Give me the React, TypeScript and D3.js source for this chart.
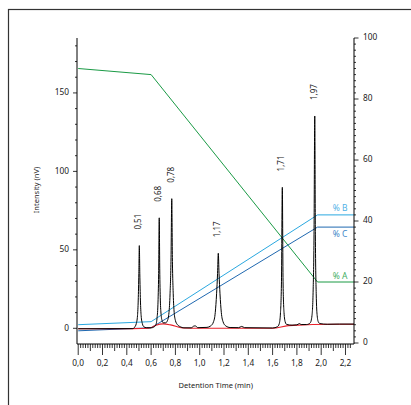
import React from "react";
import * as d3 from "d3";

// ---- data ----
const xTickLabels = ["0,0", "0,2", "0,4", "0,6", "0,8", "1,0", "1,2", "1,4", "1,6", "1,8", "2,0", "2,2"];
const xTickValues = [0, 0.2, 0.4, 0.6, 0.8, 1.0, 1.2, 1.4, 1.6, 1.8, 2.0, 2.2];
const leftTicks = [0, 50, 100, 150];
const rightTicks = [0, 20, 40, 60, 80, 100];

// chromatogram trace [time (min), intensity (nV)]
const traceTime = [
  0.0, 0.45, 0.465, 0.478, 0.488, 0.494, 0.499, 0.503, 0.507, 0.512, 0.518, 0.528, 0.54, 0.56,
  0.6, 0.622, 0.638, 0.648, 0.656, 0.662, 0.667, 0.671, 0.676, 0.682, 0.69, 0.7, 0.72,
  0.735, 0.747, 0.756, 0.764, 0.77, 0.775, 0.782, 0.79, 0.8, 0.815, 0.84, 0.87,
  0.93, 0.955, 0.965, 0.985, 1.06, 1.09, 1.113, 1.128, 1.139, 1.147, 1.153, 1.159, 1.167, 1.178, 1.193, 1.215, 1.25,
  1.32, 1.345, 1.37, 1.6, 1.64, 1.655, 1.665, 1.673, 1.68, 1.686, 1.694, 1.704, 1.715, 1.76,
  1.8, 1.82, 1.835, 1.88, 1.91, 1.924, 1.934, 1.941, 1.947, 1.952, 1.959, 1.967, 1.977, 1.99, 2.05, 2.15, 2.27,
];
const traceValue = [
  -0.3, -0.2, 0.8, 3, 8, 18, 35, 52.7, 35, 18, 8, 3, 1, 0.4,
  0.3, 0.8, 2, 6, 15, 35, 70.4, 38, 18, 9, 5, 3.5, 3.5,
  5, 10, 22, 45, 82.6, 45, 22, 10, 5, 2.5, 1, 0.3,
  0.3, 1.5, 1.5, 0.4, 0.6, 1.5, 4, 10, 22, 35, 47.8, 35, 22, 10, 4, 1.5, 0.5,
  0.4, 1.2, 0.4, 0.2, 1, 3, 10, 30, 89.8, 30, 10, 4, 2.5, 2,
  2.2, 3, 2.4, 2.4, 3.5, 8, 25, 60, 135.3, 60, 22, 8, 4, 3, 2.6, 2.7, 2.7,
];

// reference (red) trace
const redTime = [0.0, 0.45, 0.58, 0.64, 0.7, 0.76, 0.86, 1.0, 1.6, 1.73, 2.13, 2.27];
const redValue = [-0.3, -0.2, 0, 2, 2.8, 2.2, 0.2, 0, 0, 1.7, 2.6, 2.6];

// gradient (%), right axis
const gradTime = [0, 0.6, 1.97, 2.27];
const gradA = [90, 88, 20, 20];
const gradB = [6, 7, 42, 42];
const gradC = [4, 5, 38, 38];

// peak labels
const peakLabels = ["0,51", "0,68", "0,78", "1,17", "1,71", "1,97"];
const peakTimes = [0.503, 0.667, 0.77, 1.153, 1.68, 1.947];
const peakHeights = [52.7, 70.4, 82.6, 47.8, 89.8, 135.3];

const FONT = "'Noto Sans', 'DejaVu Sans', sans-serif";
const TXT = "#222";

export default function App() {
  const x = d3.scaleLinear().domain([-0.01, 2.27]).range([77, 354]);
  const yL = d3.scaleLinear().domain([-10, 185]).range([344, 38]);
  const yR = d3.scaleLinear().domain([0, 100]).range([343, 38]);

  const trace = d3
    .line<number>()
    .x((_, i) => x(traceTime[i]))
    .y((v) => yL(v))
    .curve(d3.curveMonotoneX)(traceValue) as string;
  const red = d3
    .line<number>()
    .x((_, i) => x(redTime[i]))
    .y((v) => yL(v))
    .curve(d3.curveMonotoneX)(redValue) as string;
  const gline = (vals: number[]) =>
    d3
      .line<number>()
      .x((_, i) => x(gradTime[i]))
      .y((v) => yR(v))(vals) as string;

  const minorX = d3.range(0, 113).map((i) => i * 0.02).filter((t) => t <= 2.265);
  const leftMinor = d3.range(10, 181, 10).filter((v) => v % 50 !== 0);
  const rightMinor = d3.range(2, 100, 2).filter((v) => v % 20 !== 0);

  const xAxisY = 344;
  const axL = 77;
  const axR = 354;

  return (
    <svg
      width={411}
      height={405}
      style={{ position: "absolute", left: 0, top: 0, background: "#fff" }}
      fontFamily={FONT}
    >
      <rect x={8.5} y={9.5} width={500} height={500} fill="#fff" stroke="#333" strokeWidth={1.2} />

      {/* gradient lines */}
      <path d={gline(gradA)} fill="none" stroke="#1a9a45" strokeWidth={1} />
      <path d={gline(gradB)} fill="none" stroke="#2aa8e0" strokeWidth={1} />
      <path d={gline(gradC)} fill="none" stroke="#1f68b0" strokeWidth={1} />

      {/* traces */}
      <path d={red} fill="none" stroke="#e8202a" strokeWidth={1.1} />
      <path d={trace} fill="none" stroke="#000" strokeWidth={1} />

      {/* gradient labels */}
      <text x={347.5} y={yR(gradB[3]) - 6} fontSize={8.5} fill="#4fb1e6" textAnchor="end" dominantBaseline="middle">% B</text>
      <text x={347.5} y={yR(gradC[3]) + 8} fontSize={8.5} fill="#3d86c8" textAnchor="end" dominantBaseline="middle">% C</text>
      <text x={347.5} y={yR(gradA[3]) - 5.5} fontSize={8.5} fill="#3fae5f" textAnchor="end" dominantBaseline="middle">% A</text>

      {/* peak labels */}
      {peakLabels.map((lab, i) => {
        const px = x(peakTimes[i]);
        const py = yL(peakHeights[i]) - 16;
        return (
          <text
            key={lab}
            transform={`translate(${px},${py}) rotate(-90)`}
            fontSize={8}
            fill={TXT}
            dominantBaseline="middle"
          >
            {lab}
          </text>
        );
      })}

      {/* axes lines */}
      <path d={`M${axL},38 V${xAxisY} H${axR} V38`} fill="none" stroke="#000" strokeWidth={1} />

      {/* x ticks */}
      {minorX.map((t, i) => {
        const len = i % 10 === 0 ? 11 : i % 5 === 0 ? 7 : 4;
        return <line key={i} x1={x(t)} x2={x(t)} y1={xAxisY} y2={xAxisY + len} stroke="#000" strokeWidth={0.8} />;
      })}
      {xTickValues.map((t, i) => (
        <text key={t} x={x(t)} y={364} fontSize={8.3} fill={TXT} textAnchor="middle" dominantBaseline="middle">
          {xTickLabels[i]}
        </text>
      ))}

      {/* left ticks */}
      {leftMinor.map((v) => (
        <line key={v} x1={axL - 2} x2={axL} y1={yL(v)} y2={yL(v)} stroke="#000" strokeWidth={0.8} />
      ))}
      {leftTicks.map((v) => (
        <g key={v}>
          <line x1={axL - 4} x2={axL} y1={yL(v)} y2={yL(v)} stroke="#000" strokeWidth={0.8} />
          <text x={69} y={yL(v)} fontSize={8.3} fill={TXT} textAnchor="end" dominantBaseline="middle">
            {v}
          </text>
        </g>
      ))}

      {/* right ticks */}
      {rightMinor.map((v) => (
        <line key={v} x1={axR} x2={axR + 2} y1={yR(v)} y2={yR(v)} stroke="#000" strokeWidth={0.8} />
      ))}
      {rightTicks.map((v) => (
        <g key={v}>
          <line x1={axR} x2={axR + 4.5} y1={yR(v)} y2={yR(v)} stroke="#000" strokeWidth={0.8} />
          <text x={363} y={yR(v)} fontSize={8.3} fill={TXT} dominantBaseline="middle">
            {v}
          </text>
        </g>
      ))}

      {/* axis titles */}
      <text x={215.7} y={386} fontSize={7.5} fill={TXT} textAnchor="middle" dominantBaseline="middle">
        Detention Time (min)
      </text>
      <text
        transform={`translate(36.7,190) rotate(-90)`}
        fontSize={7.5}
        fill={TXT}
        textAnchor="middle"
        dominantBaseline="middle"
      >
        Intensity (nV)
      </text>
    </svg>
  );
}
